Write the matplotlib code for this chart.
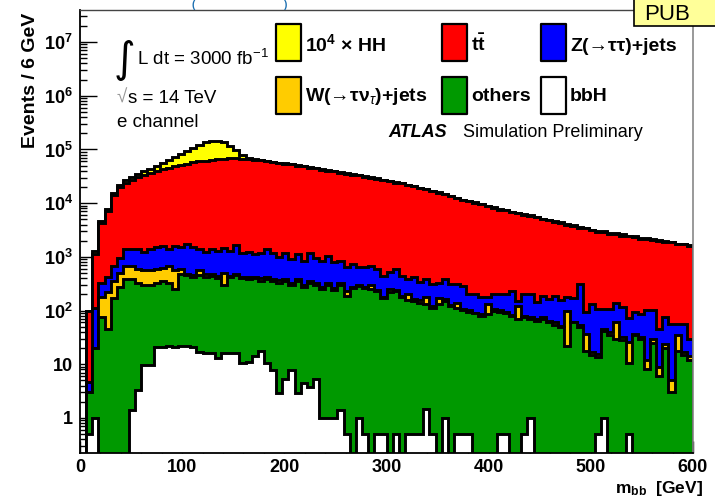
import numpy as np
import matplotlib
matplotlib.use("Agg")
import matplotlib.pyplot as plt
from matplotlib.patches import Rectangle
from matplotlib.ticker import LogLocator, NullFormatter, MultipleLocator, FixedLocator

plt.rcParams['font.family'] = ['Liberation Sans', 'DejaVu Sans']
plt.rcParams['mathtext.fontset'] = 'custom'
plt.rcParams['mathtext.rm'] = 'Liberation Sans'
plt.rcParams['mathtext.bf'] = 'Liberation Sans:bold'
plt.rcParams['mathtext.it'] = 'Liberation Sans:italic'
plt.rcParams['mathtext.sf'] = 'Liberation Sans'

# ---------------- data (events per 6 GeV bin, 0..600 GeV) ----------------
bin_edges = np.arange(0, 601, 6)

bbh = [0, 0.5, 1, 0, 0, 0, 0, 0, 1.4, 3.3,
       9.6, 9.9, 20.6, 20.8, 22, 21, 22, 22, 21, 16.7,
       16, 16, 12.9, 16, 16, 16, 10.4, 11, 14, 18,
       10.4, 7.7, 2.9, 5.3, 7.7, 2.9, 4.4, 3.7, 5.3, 1,
       1, 1, 1.4, 0.5, 0, 1, 0.5, 0, 0.5, 0.5,
       0, 0.5, 0, 0.5, 0.5, 0.5, 1.5, 0.5, 0, 1,
       0, 0.5, 0.5, 0.5, 0, 0, 0, 0, 0.5, 0.5,
       0, 0, 0.5, 1, 0, 0, 0, 0, 0, 0,
       0, 0, 0, 0, 0.5, 1, 0, 0, 0, 0.5,
       0, 0, 0, 0, 0, 0, 0, 0, 0, 0]

others = [0, 2.6, 19, 75, 45, 170, 270, 390, 389, 327,
          290, 290, 299, 329, 308, 229, 458, 428, 399, 453,
          414, 424, 387, 284, 404, 444, 390, 369, 386, 342,
          370, 342, 327, 355, 292, 347, 276, 316, 295, 249,
          299, 239, 299, 189, 260, 289, 260, 250, 230, 170,
          220, 230, 180, 160, 150, 140, 130, 110, 130, 150,
          120, 110, 100, 95, 90, 80, 85, 100, 95, 90,
          80, 70, 75, 70, 65, 70, 60, 55, 50, 22,
          60, 50, 18, 15, 13, 40, 35, 30, 28, 10,
          35, 30, 8, 25, 6, 20, 3, 18, 15, 12]

wjets = [0, 0, 0, 102, 173, 180, 230, 290, 290, 270,
         260, 260, 280, 270, 350, 310, 120, 30, 40, 90,
         40, 30, 50, 200, 20, 20, 30, 40, 30, 40,
         40, 30, 40, 20, 30, 30, 20, 30, 30, 30,
         20, 20, 30, 40, 20, 10, 10, 50, 10, 10,
         30, 10, 10, 40, 15, 20, 50, 10, 40, 10,
         5, 25, 5, 5, 2, 5, 45, 5, 5, 2,
         4, 50, 5, 5, 5, 5, 4, 5, 2, 78,
         2, 5, 19, 2, 2, 5, 5, 30, 4, 15,
         2, 2, 4, 5, 3, 4, 2, 17, 2, 2]

zjets = [0, 1.6, 94, 156, 197, 330, 470, 710, 710, 790,
         690, 830, 900, 980, 710, 1040, 900, 1220, 1040, 830,
         780, 920, 850, 950, 860, 1170, 770, 830, 690, 800,
         970, 820, 630, 820, 570, 740, 550, 850, 620, 570,
         730, 540, 520, 410, 470, 360, 365, 380, 350, 265,
         270, 350, 255, 187, 255, 173, 207, 190, 163, 227,
         185, 175, 185, 103, 111, 92, 47, 98, 103, 111,
         151, 30, 123, 128, 72, 115, 101, 130, 103, 77,
         108, 255, 58, 113, 92, 62, 67, 80, 83, 47,
         58, 56, 91, 73, 37, 53, 52, 22, 40, 15]

ttbar = [0, 95, 1040, 3970, 6590, 13300, 19000, 22600, 26100, 29600,
         32750, 35100, 38500, 40900, 44600, 46900, 50500, 52800, 56000, 58600,
         60750, 62600, 64700, 65550, 66700, 66850, 65800, 65250, 62900, 61300,
         58600, 57300, 55000, 52800, 51600, 48900, 47650, 44800, 43550, 41150,
         39450, 38200, 36150, 34850, 33250, 32350, 30350, 29300, 27900, 26550,
         25500, 23400, 23050, 21100, 20100, 18650, 17600, 16200, 15450, 14300,
         13200, 12000, 11200, 10600, 10000, 9320, 8620, 8100, 7400, 7100,
         6560, 6280, 5900, 5500, 5360, 4810, 4635, 4310, 4145, 3820,
         3630, 3190, 3305, 2970, 2840, 2740, 2590, 2510, 2385, 2330,
         2255, 2110, 2045, 1945, 1955, 1825, 1795, 1645, 1645, 1570]

hh_x1e4 = [0, 0, 150, 400, 700, 1300, 2000, 2700, 3500, 4300,
           5500, 7500, 10000, 14000, 19000, 25000, 32000, 40000, 50000, 62000,
           74000, 82000, 80000, 70000, 50000, 30000, 12000, 4000, 2000, 1500,
           1200, 1000, 900, 800, 900, 700, 800, 600, 700, 600,
           500, 600, 500, 450, 500, 400, 450, 400, 350, 400,
           300, 350, 300, 280, 300, 250, 260, 220, 250, 200,
           220, 200, 180, 200, 160, 180, 150, 170, 140, 250,
           130, 140, 120, 250, 110, 120, 100, 200, 100, 100,
           90, 150, 90, 85, 80, 150, 75, 80, 120, 70,
           80, 70, 100, 65, 60, 90, 60, 55, 70, 50]

layers = [bbh, others, wjets, zjets, ttbar, hh_x1e4]
layer_colors = ['#ffffff', '#009900', '#ffcc00', '#0000ff', '#ff0000', '#ffff00']

# ---------------- figure ----------------
W, H = 715, 498
fig = plt.figure(figsize=(W / 100, H / 100), dpi=100)
fig.patch.set_facecolor('white')

def fx(px):
    return px / W

def fy(py):
    return 1 - py / H

ax = fig.add_axes([fx(80), fy(453), (693 - 80) / W, (453 - 10) / H])

floor = 1e-3
cum = np.cumsum(np.array(layers, dtype=float), axis=0)
for i in reversed(range(len(layers))):
    ax.stairs(np.maximum(cum[i], floor), bin_edges, baseline=floor, fill=True,
              facecolor=layer_colors[i], edgecolor='black', linewidth=2.1,
              joinstyle='miter', zorder=2 + (len(layers) - i) * 0.01)

ax.set_yscale('log')
ax.set_xlim(0, 600)
ax.set_ylim(0.223, 3.95e7)

# y ticks
ymaj = [1, 10, 1e2, 1e3, 1e4, 1e5, 1e6, 1e7]
ylab = ['1', '10'] + [r'$\mathbf{10^{%d}}$' % k for k in range(2, 8)]
ax.yaxis.set_major_locator(FixedLocator(ymaj))
ax.set_yticklabels(ylab)
ax.yaxis.set_minor_locator(LogLocator(base=10, subs=np.arange(2, 10), numticks=20))
ax.yaxis.set_minor_formatter(NullFormatter())

# x ticks
ax.set_xticks(range(0, 601, 100))
ax.xaxis.set_minor_locator(MultipleLocator(20))

ax.tick_params(axis='both', which='both', direction='in', top=False, right=False, color='black', width=1.0)
ax.tick_params(axis='y', which='major', length=12, pad=5, labelsize=13)
ax.tick_params(axis='y', which='minor', length=5)
ax.tick_params(axis='x', which='major', length=9, pad=4, labelsize=13)
ax.tick_params(axis='x', which='minor', length=5)
for lab in ax.get_xticklabels() + ax.get_yticklabels():
    lab.set_fontweight('bold')

for s in ['left', 'bottom']:
    ax.spines[s].set_color('black')
    ax.spines[s].set_linewidth(1.3)
ax.spines['top'].set_color('#444444')
ax.spines['top'].set_linewidth(1.0)
ax.spines['right'].set_color('#888888')
ax.spines['right'].set_linewidth(1.2)
for s in ax.spines.values():
    s.set_zorder(10)

# axis labels
fig.text(fx(31), fy(13), 'Events / 6 GeV', rotation=90, ha='center', va='top',
         fontsize=14, fontweight='bold')
fig.text(fx(703), fy(493), r'$\mathbf{m_{bb}}$  [GeV]', ha='right', va='baseline',
         fontsize=12.5, fontweight='bold')

# luminosity text
fig.text(fx(114), fy(81), '\u222b', ha='left', va='bottom', fontsize=30,
         family=['DejaVu Sans'])
fig.text(fx(137), fy(65), r'L dt = 3000 fb$^{\mathregular{-1}}$', ha='left', va='baseline', fontsize=13.5)
fig.text(fx(117), fy(103), '\u221a', ha='left', va='baseline', fontsize=13.5, color='#999999')
fig.text(fx(128), fy(103), 's = 14 TeV', ha='left', va='baseline', fontsize=13.5)
fig.text(fx(117), fy(127), 'e channel', ha='left', va='baseline', fontsize=13.5)

# legend (manual)
box_w, box_h = 25, 37
rows_top = [24, 77]
cols_x = [276, 442, 541]
entries = [
    (0, 0, '#ffff00', '10$^{\\mathbf{4}}$ \u00d7 HH'),
    (0, 1, '#ff0000', r'$\mathbf{t\bar{t}}$'),
    (0, 2, '#0000ff', 'Z(\u2192\u03c4\u03c4)+jets'),
    (1, 0, '#ffcc00', 'W(\u2192\u03c4\u03bd$_{\u03c4}$)+jets'),
    (1, 1, '#009900', 'others'),
    (1, 2, '#ffffff', 'bbH'),
]
baselines = [51, 101]
for r, c, col, lab in entries:
    x0 = cols_x[c]
    y0 = rows_top[r]
    rect = Rectangle((fx(x0), fy(y0 + box_h)), box_w / W, box_h / H, transform=fig.transFigure,
                     facecolor=col, edgecolor='black', linewidth=1.6, joinstyle='round', zorder=20)
    fig.patches.append(rect)
    fig.text(fx(x0 + box_w + 4), fy(baselines[r]), lab, ha='left', va='baseline', fontsize=14,
             fontweight='bold', zorder=21)

fig.text(fx(388), fy(137), 'ATLAS', ha='left', va='baseline', fontsize=13,
         fontweight='bold', fontstyle='italic')
fig.text(fx(463), fy(137), 'Simulation Preliminary', ha='left', va='baseline', fontsize=13)

# header elements (partly hidden in the original)
fig.text(fx(191), fy(8), '(', ha='left', va='baseline', fontsize=7, fontweight='bold', color='#1a6eb0')
fig.text(fx(284), fy(8), ')', ha='left', va='baseline', fontsize=7, fontweight='bold', color='#1a6eb0')
pub = Rectangle((fx(634), fy(26)), (W - 634 + 5) / W, 40 / H, transform=fig.transFigure,
                facecolor='#ffff99', edgecolor='black', linewidth=1.2, zorder=30)
fig.patches.append(pub)
fig.text(fx(644), fy(20), 'PUB', ha='left', va='baseline', fontsize=16, zorder=31)

fig.savefig('out.png', dpi=100, facecolor='white')
